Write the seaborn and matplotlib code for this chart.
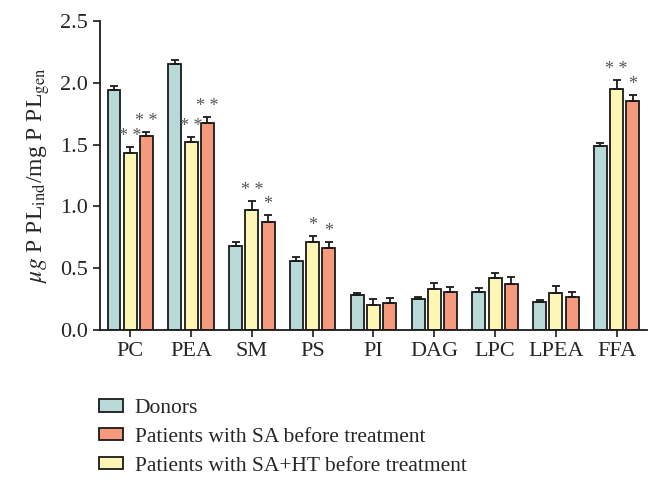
import numpy as np
import pandas as pd
import matplotlib
matplotlib.use("Agg")
import matplotlib.pyplot as plt
import seaborn as sns

categories = ["PC", "PEA", "SM", "PS", "PI", "DAG", "LPC", "LPEA", "FFA"]
groups = ["Donors", "Patients with SA+HT before treatment", "Patients with SA before treatment"]

donors = [1.94, 2.15, 0.68, 0.56, 0.28, 0.25, 0.31, 0.23, 1.49]
sa_ht = [1.43, 1.52, 0.97, 0.71, 0.20, 0.33, 0.42, 0.30, 1.95]
sa = [1.57, 1.67, 0.87, 0.66, 0.22, 0.31, 0.37, 0.27, 1.85]

donors_err = [0.03, 0.03, 0.03, 0.03, 0.02, 0.015, 0.03, 0.015, 0.02]
sa_ht_err = [0.05, 0.04, 0.07, 0.05, 0.05, 0.05, 0.04, 0.06, 0.07]
sa_err = [0.03, 0.05, 0.06, 0.05, 0.04, 0.04, 0.06, 0.04, 0.05]

sa_ht_stars = ["* *", "* *", "* *", "*", "", "", "", "", "* *"]
sa_stars = ["* *", "* *", "*", "*", "", "", "", "", "*"]

colors = ["#b9d8d8", "#fdf6b4", "#f59a7c"]

df = pd.DataFrame({
    "category": categories * 3,
    "group": [groups[0]] * 9 + [groups[1]] * 9 + [groups[2]] * 9,
    "value": donors + sa_ht + sa,
})

sns.set_style("ticks")
plt.rcParams["font.family"] = ["Liberation Serif", "DejaVu Serif"]
plt.rcParams["mathtext.fontset"] = "stix"

fig = plt.figure(figsize=(6.61, 4.84), dpi=100)
ax = fig.add_axes([0.151, 0.318, 0.828, 0.639])

sns.barplot(data=df, x="category", y="value", hue="group", hue_order=groups,
            order=categories, palette=colors, saturation=1, errorbar=None, gap=0.2,
            edgecolor="#1a1a1a", linewidth=1.3, ax=ax)

# upper error bars + significance stars
errs = [donors_err, sa_ht_err, sa_err]
stars = [None, sa_ht_stars, sa_stars]
bar_conts = list(ax.containers)
for i, cont in enumerate(bar_conts):
    for j, patch in enumerate(cont.patches):
        xc = patch.get_x() + patch.get_width() / 2
        h = patch.get_height()
        ax.errorbar(xc, h, yerr=[[0], [errs[i][j]]], fmt="none", ecolor="#1a1a1a",
                    elinewidth=1.3, capsize=3, capthick=1.3)
        if stars[i] and stars[i][j]:
            ax.text(xc, h + errs[i][j] + 0.02, stars[i][j], ha="center", va="bottom",
                    fontsize=13, color="#555555")

ax.set_xlim(-0.5, 8.5)
ax.set_ylim(0, 2.5)
ax.set_yticks([0, 0.5, 1.0, 1.5, 2.0, 2.5])
ax.set_yticklabels(["0.0", "0.5", "1.0", "1.5", "2.0", "2.5"])
ax.tick_params(axis="both", labelsize=16, width=1.2, length=5, color="#1a1a1a")
ax.set_xlabel("")
ax.set_ylabel(r"$\mu g$ P PL$_{\mathrm{ind}}$/mg P PL$_{\mathrm{gen}}$", fontsize=17, labelpad=6)
for s in ["left", "bottom"]:
    ax.spines[s].set_linewidth(1.3)
    ax.spines[s].set_color("#1a1a1a")
sns.despine(ax=ax)

handles, labels = ax.get_legend_handles_labels()
ax.get_legend().remove()
order = [0, 2, 1]
fig.legend([handles[k] for k in order], [labels[k] for k in order],
           loc="upper left", bbox_to_anchor=(0.137, 0.193), frameon=False,
           fontsize=15.5, handlelength=1.1, handleheight=0.5, labelspacing=0.45,
           handletextpad=0.55, borderaxespad=0)

fig.savefig("out.png", dpi=100)
